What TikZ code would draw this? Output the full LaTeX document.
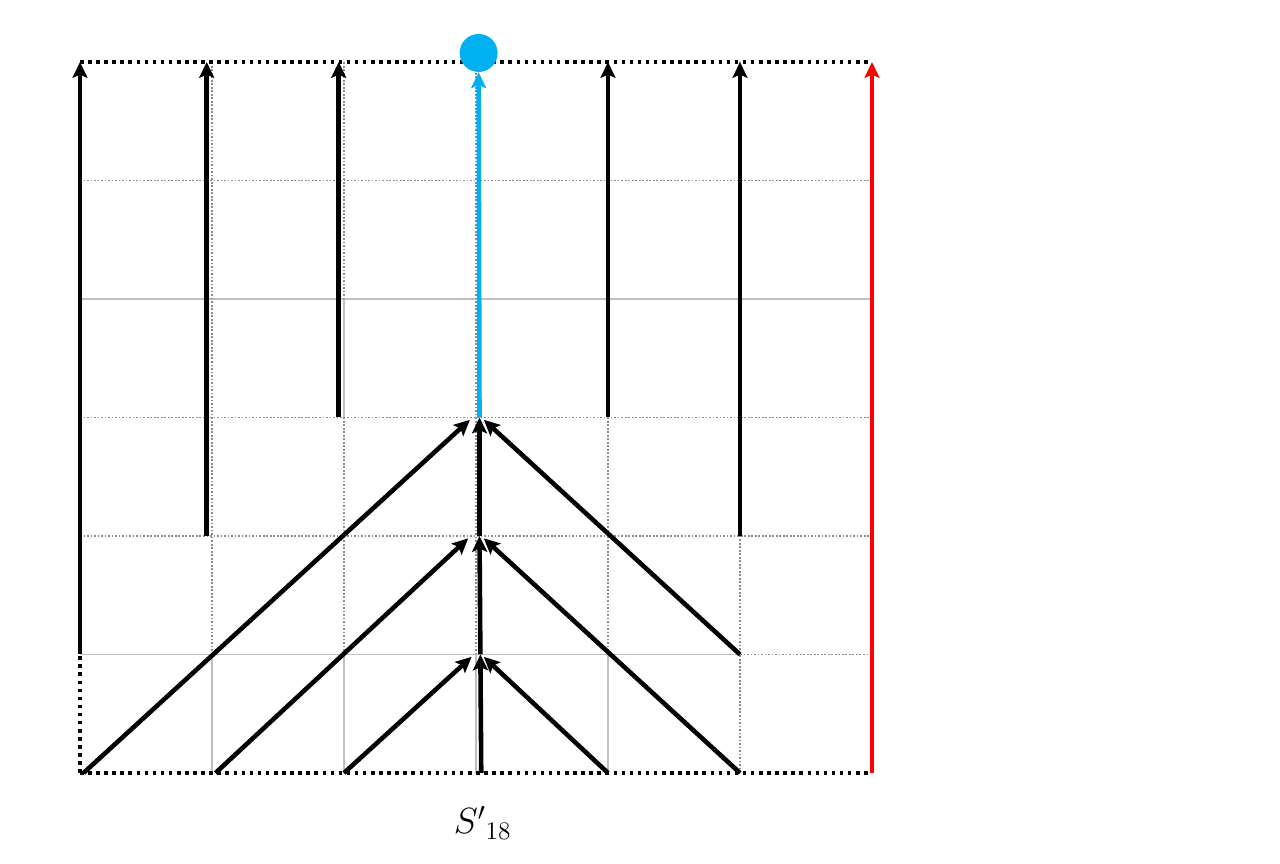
\documentclass[tikz,border=0pt]{standalone}
\usetikzlibrary{arrows.meta}
\definecolor{skyblue}{RGB}{0,176,240}
\begin{document}
\begin{tikzpicture}[x=2.64cm, y=2.37cm, >={Stealth[length=9pt,width=8.5pt,inset=1.8pt]},
	flow/.style={->, line width=2.6pt},
	gridsolid/.style={black!25, line width=0.9pt},
	griddot/.style={black!45, line width=0.9pt, dash pattern=on 1pt off 1pt},
	border/.style={line width=2pt, dash pattern=on 2pt off 2.6pt}]
	\useasboundingbox (-0.606,-0.768) rectangle (9.091,6.523);
	% grid points
	\foreach \i in {0,...,6}
		\foreach \j in {0,...,6}
			\coordinate (g\i\j) at (\i,\j);
	% grid
	\draw[gridsolid] (g01) -- (g51);
	\draw[griddot] (g51) -- (g61);
	\draw[griddot] (g02) -- (g62);
	\draw[griddot] (g03) -- (g63);
	\draw[gridsolid] (g04) -- (g64);
	\draw[griddot] (g05) -- (g65);
	\foreach \i in {1,...,4}{
		\draw[gridsolid] (g\i0) -- (g\i1);
		\draw[griddot] (g\i1) -- (g\i6);
	}
	\draw[gridsolid] (g23) -- (g24);
	\draw[griddot] (g50) -- (g56);
	% frame
	\draw[border] (g00) -- (g60);
	\draw[border] (g06) -- (g66);
	\draw[border] (g00) -- (g01);
	% vertical arrows
	\draw[flow] (g01) -- (g06);
	\draw[flow] ([xshift=-3pt]g12) -- ([xshift=-3pt]g16);
	\draw[flow] ([xshift=-3pt]g23) -- ([xshift=-3pt]g26);
	\draw[flow] (g43) -- (g46);
	\draw[flow] (g52) -- (g56);
	\draw[flow, red] (g60) -- (g66);
	% goal
	\node[circle, fill=skyblue, minimum size=0.76cm, inner sep=0pt] (goal) at (3.02,6.076) {};
	\draw[flow, skyblue] ([xshift=2pt]g33) -- (goal.south);
	% merging arrows
	\draw[flow] ([xshift=3pt]g30) -- ([xshift=2.5pt]g31);
	\draw[flow] ([xshift=2.5pt]g31) -- ([xshift=2pt]g32);
	\draw[flow] ([xshift=2pt]g32) -- ([xshift=2pt]g33);
	\draw[flow, shorten >=2pt] ([xshift=2pt]g00) -- ([xshift=-2pt]g33);
	\draw[flow, shorten >=2pt] ([xshift=2pt]g10) -- ([xshift=-3pt]g32);
	\draw[flow, shorten >=2pt] (g20) -- ([xshift=-1pt]g31);
	\draw[flow, shorten >=2pt] (g40) -- ([xshift=3pt]g31);
	\draw[flow, shorten >=2pt] (g50) -- ([xshift=3pt]g32);
	\draw[flow, shorten >=2pt] (g51) -- ([xshift=3pt]g33);
	% label
	\node (label) at (3.05,-0.42) {\fontsize{22}{26}\selectfont ${S'}_{18}$};
\end{tikzpicture}
\end{document}
